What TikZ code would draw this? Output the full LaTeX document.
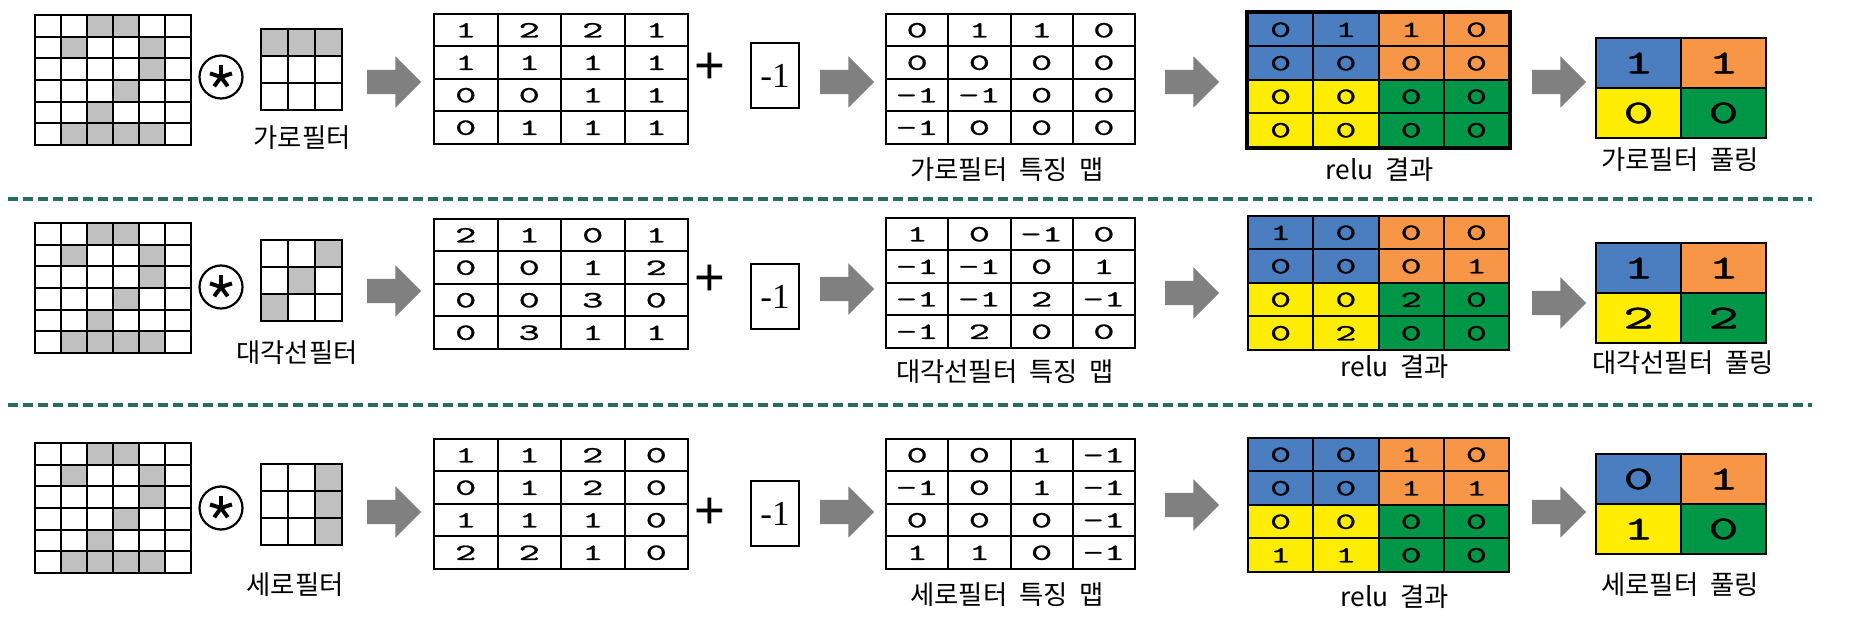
\documentclass[tikz,border=0pt]{standalone}
\usepackage{fontspec}
\setmainfont{Noto Sans CJK KR}[WordSpace=2]
\newfontfamily\numfont{lmmono10-regular}[Extension=.otf, FakeStretch=1.75, FakeBold=1]
\newfontfamily\biasfont{Liberation Serif}
\newfontfamily\plusfont{Liberation Sans}
\usetikzlibrary{positioning, calc, shapes.arrows, backgrounds}

\definecolor{qblue}{RGB}{74,126,193}
\definecolor{qorange}{RGB}{247,150,70}
\definecolor{qyellow}{RGB}{255,237,0}
\definecolor{qgreen}{RGB}{0,150,72}
\definecolor{pixgray}{RGB}{192,192,192}
\definecolor{rulegreen}{RGB}{40,108,92}
\definecolor{arrgray}{RGB}{128,128,128}

\begin{document}
\begin{tikzpicture}[
  x=0.1mm, y=-0.1mm,
  font=\fontsize{7.5}{9}\selectfont,
  cellbox/.style={draw, line width=0.2mm, inner sep=0pt, anchor=north west},
  pix/.style={cellbox, minimum width=2.6mm, minimum height=2.17mm},
  fpix/.style={cellbox, minimum width=2.7mm, minimum height=2.7mm},
  numcell/.style={cellbox, font=\numfont\fontsize{6.6}{7}\selectfont},
  convcell/.style={numcell, minimum width=6.35mm, minimum height=3.25mm},
  featcell/.style={numcell, minimum width=6.225mm, minimum height=3.25mm},
  relucell/.style={numcell, minimum width=6.525mm, minimum height=3.35mm},
  poolcell/.style={numcell, minimum width=8.5mm, minimum height=5mm, font=\numfont\fontsize{9.5}{10}\selectfont},
  convop/.style={circle, draw, line width=0.22mm, minimum size=4.3mm, inner sep=0pt,
    path picture={\foreach \a in {90,18,162,-54,-126}
      \draw[line width=0.4mm] (path picture bounding box.center) -- ++(\a:1.15mm);}},
  plus/.style={inner sep=0pt, font=\plusfont\fontsize{15}{15}\selectfont},
  biasbox/.style={cellbox, minimum width=4.8mm, minimum height=6.5mm, font=\biasfont\fontsize{10}{11}\selectfont},
  blockarrow/.style={single arrow, fill=arrgray, inner xsep=0pt, inner ysep=1.15mm, minimum height=5.4mm, minimum width=5mm, single arrow head extend=1.35mm},
  lab/.style={inner sep=0pt},
  rowrule/.style={draw=rulegreen, line width=0.35mm, dash pattern=on 1mm off 0.5mm},
]

\begin{scope}[on background layer]
  \fill[white] (0,0) rectangle (1852,618);
\end{scope}
\useasboundingbox (0,0) rectangle (1852,618);

% ================= input picture, same in every row =================
\foreach \r/\by in {A/14,B/222,C/442}
  \foreach \i in {1,...,6} \foreach \j in {1,...,6}
    \node[pix] (in\r-\i-\j) at ({34+26*(\j-1)},{\by+21.7*(\i-1)}) {};

% ================= Row A: 가로필터 =================
\node[convop] (opA) at (221,77) {};
\foreach \i in {1,2,3} \foreach \j in {1,2,3}
  \node[fpix] (filtA-\i-\j) at ({260+27*(\j-1)},{28+27*(\i-1)}) {};
\node[lab] (filtlabA) at (302,138) {가로필터};

\foreach \row [count=\i] in {{1,2,2,1},{1,1,1,1},{0,0,1,1},{0,1,1,1}}
  \foreach \v [count=\j] in \row
    \node[convcell] (convA-\i-\j) at ({433+63.5*(\j-1)},{13+32.5*(\i-1)}) {\v};
\node[plus] (plusA) at (710,68) {+};
\node[biasbox] (biasA) at (750,42) {-1};

\foreach \row [count=\i] in {{0,1,1,0},{0,0,0,0},{-1,-1,0,0},{-1,0,0,0}}
  \foreach \v [count=\j] in \row
    \node[featcell] (featA-\i-\j) at ({885+62.25*(\j-1)},{13+32.5*(\i-1)}) {\v};
\node[lab] (featlabA) at (1007,170) {가로필터 특징 맵};

\foreach \row [count=\i] in {{0,1,1,0},{0,0,0,0},{0,0,0,0},{0,0,0,0}}
  \foreach \v [count=\j] in \row
    \node[relucell] (reluA-\i-\j) at ({1247+65.25*(\j-1)},{12+33.5*(\i-1)}) {\v};
\draw[line width=0.45mm] (reluA-1-1.north west) rectangle (reluA-4-4.south east);
\node[lab] (relulabA) at (1380,170) {relu 결과};

\foreach \v/\c [count=\k] in {1/qblue,1/qorange,0/qyellow,0/qgreen}
  \node[poolcell, fill=\c] (poolA-\k) at ({1595+85*mod(\k-1,2)},{37+50*int((\k-1)/2)}) {\v};
\node[lab] (poollabA) at (1680,160) {가로필터 풀링};

\foreach \ax/\ay/\n in {388/82/1,841/82/2,1186/82/3,1553/82/4}
  \node[blockarrow] (arrA\n) at (\ax,\ay) {};

\draw[rowrule] (8,199) -- (1812,199);

% ================= Row B: 대각선필터 =================
\node[convop] (opB) at (221,287) {};
\foreach \i in {1,2,3} \foreach \j in {1,2,3}
  \node[fpix] (filtB-\i-\j) at ({260+27*(\j-1)},{239+27*(\i-1)}) {};
\node[lab] (filtlabB) at (297,353) {대각선필터};

\foreach \row [count=\i] in {{2,1,0,1},{0,0,1,2},{0,0,3,0},{0,3,1,1}}
  \foreach \v [count=\j] in \row
    \node[convcell] (convB-\i-\j) at ({433+63.5*(\j-1)},{218+32.5*(\i-1)}) {\v};
\node[plus] (plusB) at (710,280) {+};
\node[biasbox] (biasB) at (750,263) {-1};

\foreach \row [count=\i] in {{1,0,-1,0},{-1,-1,0,1},{-1,-1,2,-1},{-1,2,0,0}}
  \foreach \v [count=\j] in \row
    \node[featcell] (featB-\i-\j) at ({885+62.25*(\j-1)},{217+32.5*(\i-1)}) {\v};
\node[lab] (featlabB) at (1005,372) {대각선필터 특징 맵};

\foreach \row [count=\i] in {{1,0,0,0},{0,0,0,1},{0,0,2,0},{0,2,0,0}}
  \foreach \v [count=\j] in \row
    \node[relucell] (reluB-\i-\j) at ({1247+65.25*(\j-1)},{215+33.5*(\i-1)}) {\v};
\node[lab] (relulabB) at (1395,367) {relu 결과};

\foreach \v/\c [count=\k] in {1/qblue,1/qorange,2/qyellow,2/qgreen}
  \node[poolcell, fill=\c] (poolB-\k) at ({1595+85*mod(\k-1,2)},{242+50*int((\k-1)/2)}) {\v};
\node[lab] (poollabB) at (1683,363) {대각선필터 풀링};

\foreach \ax/\ay/\n in {388/291/1,841/289/2,1186/293/3,1553/303/4}
  \node[blockarrow] (arrB\n) at (\ax,\ay) {};

\draw[rowrule] (8,405) -- (1812,405);

% ================= Row C: 세로필터 =================
\node[convop] (opC) at (221,508) {};
\foreach \i in {1,2,3} \foreach \j in {1,2,3}
  \node[fpix] (filtC-\i-\j) at ({260+27*(\j-1)},{463+27*(\i-1)}) {};
\node[lab] (filtlabC) at (295,585) {세로필터};

\foreach \row [count=\i] in {{1,1,2,0},{0,1,2,0},{1,1,1,0},{2,2,1,0}}
  \foreach \v [count=\j] in \row
    \node[convcell] (convC-\i-\j) at ({433+63.5*(\j-1)},{438+32.5*(\i-1)}) {\v};
\node[plus] (plusC) at (710,513) {+};
\node[biasbox] (biasC) at (750,480) {-1};

\foreach \row [count=\i] in {{0,0,1,-1},{-1,0,1,-1},{0,0,0,-1},{1,1,0,-1}}
  \foreach \v [count=\j] in \row
    \node[featcell] (featC-\i-\j) at ({885+62.25*(\j-1)},{438+32.5*(\i-1)}) {\v};
\node[lab] (featlabC) at (1007,595) {세로필터 특징 맵};

\foreach \row [count=\i] in {{0,0,1,0},{0,0,1,1},{0,0,0,0},{1,1,0,0}}
  \foreach \v [count=\j] in \row
    \node[relucell] (reluC-\i-\j) at ({1247+65.25*(\j-1)},{437+33.5*(\i-1)}) {\v};
\node[lab] (relulabC) at (1395,597) {relu 결과};

\foreach \v/\c [count=\k] in {0/qblue,1/qorange,1/qyellow,0/qgreen}
  \node[poolcell, fill=\c] (poolC-\k) at ({1595+85*mod(\k-1,2)},{453+50*int((\k-1)/2)}) {\v};
\node[lab] (poollabC) at (1680,585) {세로필터 풀링};

\foreach \ax/\ay/\n in {388/512/1,841/512/2,1186/505/3,1553/512/4}
  \node[blockarrow] (arrC\n) at (\ax,\ay) {};

% ================= fills under the grids =================
\begin{scope}[on background layer]
  \foreach \r in {A,B,C} {
    \foreach \i/\j in {1/3,1/4,2/2,2/5,3/5,4/4,5/3,6/2,6/3,6/4,6/5}
      \fill[pixgray] (in\r-\i-\j.north west) rectangle (in\r-\i-\j.south east);
    \fill[qblue] (relu\r-1-1.north west) rectangle (relu\r-2-2.south east);
    \fill[qorange] (relu\r-1-3.north west) rectangle (relu\r-2-4.south east);
    \fill[qyellow] (relu\r-3-1.north west) rectangle (relu\r-4-2.south east);
    \fill[qgreen] (relu\r-3-3.north west) rectangle (relu\r-4-4.south east);
  }
  \foreach \f/\i/\j in {A/1/1,A/1/2,A/1/3,B/1/3,B/2/2,B/3/1,C/1/3,C/2/3,C/3/3}
    \fill[pixgray] (filt\f-\i-\j.north west) rectangle (filt\f-\i-\j.south east);
\end{scope}

\end{tikzpicture}
\end{document}
